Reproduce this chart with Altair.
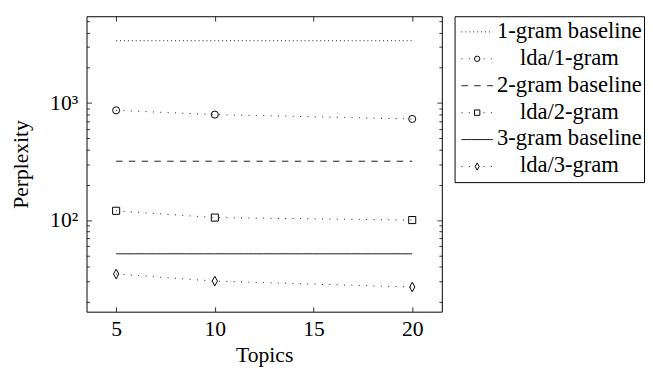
import altair as alt
import pandas as pd

# ---- data ----
topics = [5, 10, 20]
series_names = ["1-gram baseline", "lda/1-gram", "2-gram baseline",
                "lda/2-gram", "3-gram baseline", "lda/3-gram"]
baseline_1gram = [3400, 3400, 3400]
lda_1gram = [865, 795, 730]
baseline_2gram = [318, 318, 318]
lda_2gram = [120, 105, 100]
baseline_3gram = [51.5, 51.5, 51.5]
lda_3gram = [34.6, 30.1, 26.8]

x_ticks = [5, 10, 15, 20]
y_major_ticks = [100, 1000]
y_minor_ticks = [20, 30, 40, 50, 60, 70, 80, 90,
                 200, 300, 400, 500, 600, 700, 800, 900,
                 2000, 3000, 4000, 5000]

# ---- styles ----
FONT = "Liberation Serif"
FS = 22
dash_styles = [[1, 3], [1, 6.5], [6.5, 6.5], [1, 6.5], [10, 0], [1, 6.5]]
lda_names = ["lda/1-gram", "lda/2-gram", "lda/3-gram"]
marker_shapes = ["circle", "square", "M0,-1.35L0.75,0L0,1.35L-0.75,0Z"]

all_values = [baseline_1gram, lda_1gram, baseline_2gram,
              lda_2gram, baseline_3gram, lda_3gram]
rows = []
for name, vals in zip(series_names, all_values):
    for t, v in zip(topics, vals):
        rows.append({"series": name, "topics": t, "perplexity": v})
df = pd.DataFrame(rows)
df_lda = df[df["series"].isin(lda_names)]

xscale = alt.Scale(domain=[3.5, 21.5], nice=False, zero=False)
yscale = alt.Scale(type="log", domain=[16.5, 5500], nice=False)
dash_scale = alt.Scale(domain=series_names, range=dash_styles)
shape_scale = alt.Scale(domain=lda_names, range=marker_shapes)

lines = alt.Chart(df).mark_line(color="black", strokeWidth=0.9).encode(
    x=alt.X("topics:Q", scale=xscale,
            axis=alt.Axis(orient="bottom", values=x_ticks, offset=-5, tickSize=5,
                          title="Topics", labelPadding=7, titlePadding=6,
                          labelFlush=False)),
    y=alt.Y("perplexity:Q", scale=yscale,
            axis=alt.Axis(orient="left", values=y_major_ticks, offset=-5, tickSize=5,
                          title="Perplexity", labelPadding=9, titlePadding=18,
                          labelExpr="datum.value == 1000 ? '10³' : '10²'")),
    strokeDash=alt.StrokeDash("series:N", scale=dash_scale, legend=None),
    detail="series:N",
)

points = alt.Chart(df_lda).mark_point(filled=False, color="black", strokeWidth=1, size=52,
                                      opacity=1).encode(
    x=alt.X("topics:Q", scale=xscale, axis=None),
    y=alt.Y("perplexity:Q", scale=yscale, axis=None),
    shape=alt.Shape("series:N", scale=shape_scale, legend=None),
)

top_right = alt.Chart(df).mark_point(opacity=0).encode(
    x=alt.X("topics:Q", scale=xscale,
            axis=alt.Axis(orient="top", values=x_ticks, labels=False, title=None,
                          offset=-5, tickSize=5)),
    y=alt.Y("perplexity:Q", scale=yscale,
            axis=alt.Axis(orient="right", values=y_major_ticks, labels=False, title=None,
                          offset=-5, tickSize=5)),
)

minor_left = alt.Chart(df).mark_point(opacity=0).encode(
    x=alt.X("topics:Q", scale=xscale, axis=None),
    y=alt.Y("perplexity:Q", scale=yscale,
            axis=alt.Axis(orient="left", values=y_minor_ticks, labels=False, title=None,
                          offset=-3, tickSize=3)),
)
minor_right = alt.Chart(df).mark_point(opacity=0).encode(
    x=alt.X("topics:Q", scale=xscale, axis=None),
    y=alt.Y("perplexity:Q", scale=yscale,
            axis=alt.Axis(orient="right", values=y_minor_ticks, labels=False, title=None,
                          offset=-3, tickSize=3)),
)

main = alt.layer(lines, points, top_right, minor_left, minor_right).resolve_scale(
    x="independent", y="independent"
).properties(width=362, height=301)

# ---- legend panel ----
legend_df = pd.DataFrame({"series": series_names})
legend_lda = pd.DataFrame({"series": lda_names})
ly = alt.Y("series:N", sort=series_names,
           scale=alt.Scale(type="point", domain=series_names, padding=0.58), axis=None)

leg_lines = alt.Chart(legend_df).mark_rule(color="black", strokeWidth=0.9).encode(
    x=alt.value(7), x2=alt.value(39), y=ly,
    strokeDash=alt.StrokeDash("series:N", scale=dash_scale, legend=None),
)
leg_points = alt.Chart(legend_lda).mark_point(filled=True, fill="white", stroke="black",
                                              strokeWidth=1, size=30, opacity=1).encode(
    x=alt.value(23), y=ly,
    shape=alt.Shape("series:N", scale=shape_scale, legend=None),
)
leg_text = alt.Chart(legend_df).mark_text(font=FONT, fontSize=23, color="black",
                                          align="center", baseline="middle", dy=-1).encode(
    x=alt.value(117), y=ly, text="series:N",
)
legend = alt.layer(leg_lines, leg_points, leg_text).properties(width=193, height=169)

chart = alt.hconcat(main, legend, spacing=11).resolve_scale(
    x="independent", y="independent", strokeDash="independent", shape="independent"
).properties(
    padding={"left": 0, "top": 4, "right": 0, "bottom": 0}
).configure(font=FONT).configure_view(
    stroke="black", strokeWidth=1
).configure_axis(
    labelFont=FONT, titleFont=FONT, labelFontSize=FS, titleFontSize=FS,
    titleFontWeight="normal", labelColor="black", titleColor="black",
    tickColor="black", tickWidth=0.8, domain=False, grid=False,
)

chart.save("out.html", embed_options={"renderer": "svg", "actions": False})
